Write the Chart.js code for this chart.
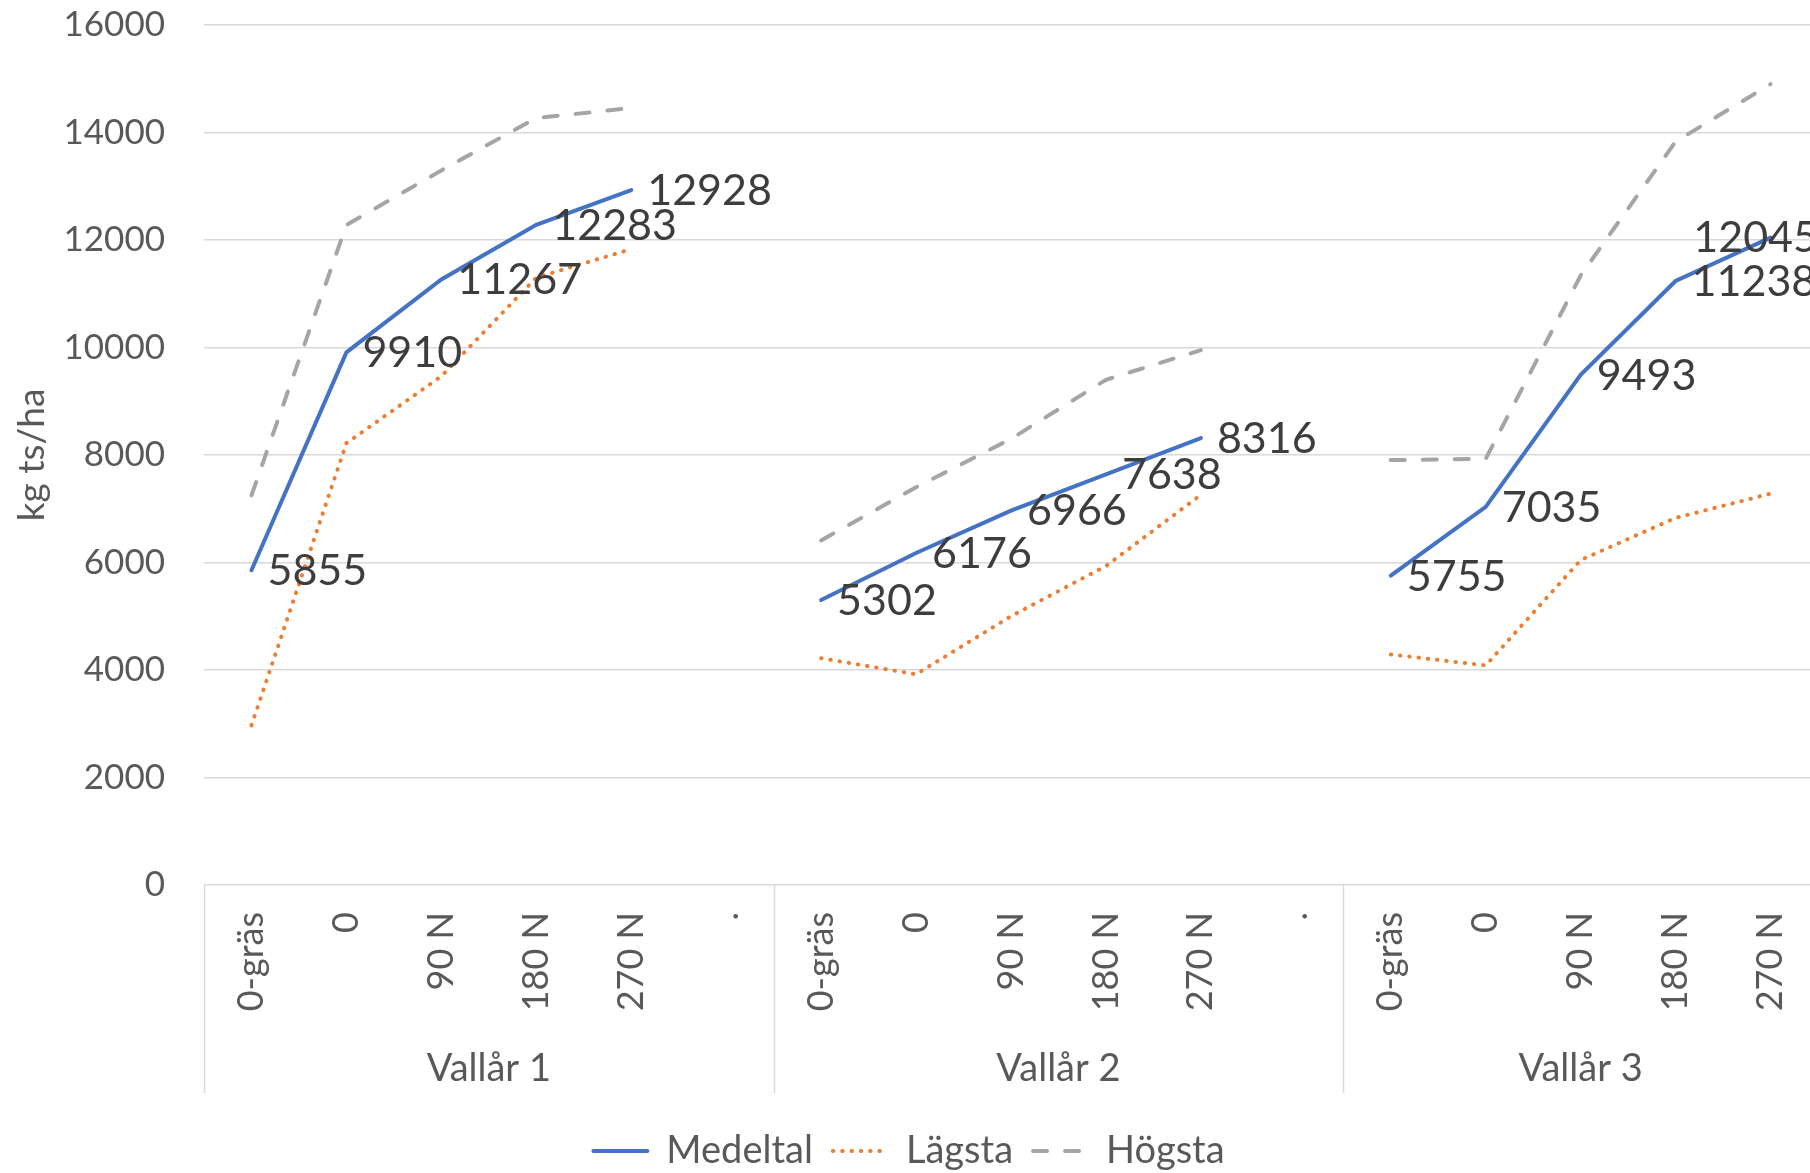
<!DOCTYPE html>
<html>
<head>
<meta charset="utf-8">
<title>Skörd kg ts/ha per vallår</title>
<script src="https://cdn.jsdelivr.net/npm/chart.js@4.4.1/dist/chart.umd.min.js"></script>
<style>
  html, body { margin: 0; padding: 0; background: #ffffff; overflow: hidden; width: 1810px; height: 1173px; }
  canvas { display: block; }
</style>
</head>
<body>
<canvas id="chart" width="1820" height="1180"></canvas>
<script>
// Treatments per ley year; "." is the spacer column between the years
const categories = [
  '0-gräs', '0', '90 N', '180 N', '270 N', '.',
  '0-gräs', '0', '90 N', '180 N', '270 N', '.',
  '0-gräs', '0', '90 N', '180 N', '270 N'
];
const groups = ['Vallår 1', 'Vallår 2', 'Vallår 3'];
const groupSizes = [6, 6, 5];

// Yield, kg ts/ha
const medeltal = [5855, 9910, 11267, 12283, 12928, null, 5302, 6176, 6966, 7638, 8316, null, 5755, 7035, 9493, 11238, 12045];
const lagsta   = [2970, 8220, 9465, 11300, 11830, null, 4220, 3920, 5000, 5935, 7260, null, 4290, 4085, 6045, 6830, 7280];
const hogsta   = [7250, 12280, 13295, 14270, 14455, null, 6410, 7400, 8300, 9400, 9950, null, 7905, 7930, 11340, 13830, 14900];

const yMin = 0, yMax = 16000, yStep = 2000;

const FONT = 'Lato';
const TICK_COLOR = '#595959';
const GRID_COLOR = '#d9d9d9';

// Value labels on the mean series, right of each point, kept inside the plot
const valueLabels = {
  id: 'valueLabels',
  afterDatasetsDraw(chart) {
    const ctx = chart.ctx;
    const meta = chart.getDatasetMeta(0);
    const data = chart.data.datasets[0].data;
    const right = chart.chartArea.right;
    ctx.save();
    ctx.font = '43px ' + FONT;
    ctx.fillStyle = '#3d3d3d';
    ctx.textAlign = 'left';
    ctx.textBaseline = 'middle';
    meta.data.forEach((pt, i) => {
      if (data[i] == null) return;
      const txt = String(data[i]);
      const w = ctx.measureText(txt).width;
      const x = Math.min(pt.x + 16, right - w);
      ctx.fillText(txt, x, pt.y + 1);
    });
    ctx.restore();
  }
};

// Second category level: year names and the dividers between them
const groupAxis = {
  id: 'groupAxis',
  afterDraw(chart) {
    const ctx = chart.ctx;
    const x = chart.scales.x;
    const bottom = chart.chartArea.bottom;
    ctx.save();
    ctx.strokeStyle = GRID_COLOR;
    ctx.lineWidth = 1.5;
    let start = 0;
    groupSizes.forEach((n, gi) => {
      const left = x.getPixelForValue(start - 0.5);
      const right = x.getPixelForValue(start + n - 0.5);
      ctx.beginPath();
      ctx.moveTo(Math.round(left) + 0.5, bottom);
      ctx.lineTo(Math.round(left) + 0.5, bottom + 208);
      ctx.stroke();
      ctx.font = '38px ' + FONT;
      ctx.fillStyle = TICK_COLOR;
      ctx.textAlign = 'center';
      ctx.textBaseline = 'middle';
      ctx.fillText(groups[gi], (left + right) / 2, bottom + 184);
      start += n;
    });
    ctx.restore();
  }
};

new Chart(document.getElementById('chart'), {
  type: 'line',
  data: {
    labels: categories,
    datasets: [
      {
        label: 'Medeltal',
        data: medeltal,
        borderColor: '#4472c4',
        backgroundColor: '#4472c4',
        borderWidth: 4,
        borderCapStyle: 'round',
        pointRadius: 0,
        tension: 0,
        spanGaps: false
      },
      {
        label: 'Lägsta',
        data: lagsta,
        borderColor: '#ed7d31',
        backgroundColor: '#ed7d31',
        borderWidth: 4,
        borderDash: [0.5, 8.8],
        borderCapStyle: 'round',
        pointRadius: 0,
        tension: 0,
        spanGaps: false
      },
      {
        label: 'Högsta',
        data: hogsta,
        borderColor: '#a5a5a5',
        backgroundColor: '#a5a5a5',
        borderWidth: 4,
        borderDash: [14, 18],
        borderCapStyle: 'round',
        pointRadius: 0,
        tension: 0,
        spanGaps: false
      }
    ]
  },
  options: {
    responsive: false,
    animation: false,
    devicePixelRatio: 1,
    layout: { padding: { top: 25, right: 2, left: 0, bottom: 0 } },
    plugins: {
      legend: {
        position: 'bottom',
        labels: {
          usePointStyle: true,
          pointStyle: 'line',
          pointStyleWidth: 54,
          padding: 20,
          color: TICK_COLOR,
          font: { family: FONT, size: 38 },
          // legend samples follow each series' own stroke (dash, width, cap)
          generateLabels(chart) {
            const items = Chart.defaults.plugins.legend.labels.generateLabels(chart);
            items.forEach(it => {
              const ds = chart.data.datasets[it.datasetIndex];
              it.pointStyle = 'line';
              it.strokeStyle = ds.borderColor;
              it.fillStyle = ds.borderColor;
              it.lineWidth = ds.borderWidth;
              it.lineDash = ds.borderDash || [];
              it.lineCap = ds.borderCapStyle;
            });
            return items;
          }
        }
      },
      tooltip: { enabled: false }
    },
    scales: {
      x: {
        type: 'category',
        offset: true,
        grid: { display: false, drawTicks: false },
        border: { display: false },
        ticks: {
          autoSkip: false,
          minRotation: 90,
          maxRotation: 90,
          padding: 27,
          color: TICK_COLOR,
          font: { family: FONT, size: 36 }
        },
        afterFit(scale) {
          scale.height = 227;
          scale.paddingLeft = 0;
          scale.paddingRight = 0;
        }
      },
      y: {
        min: yMin,
        max: yMax,
        grid: { color: GRID_COLOR, lineWidth: 1.5, drawTicks: false },
        border: { display: false },
        ticks: {
          stepSize: yStep,
          padding: 39,
          color: TICK_COLOR,
          font: { family: FONT, size: 35 },
          callback: v => String(v)
        },
        title: {
          display: true,
          text: 'kg ts/ha',
          color: TICK_COLOR,
          font: { family: FONT, size: 37 },
          padding: { top: 10, bottom: 0 }
        },
        afterFit(scale) {
          scale.width = 204;
          scale.paddingTop = 0;
          scale.paddingBottom = 0;
        }
      }
    }
  },
  plugins: [valueLabels, groupAxis]
});
</script>
</body>
</html>
